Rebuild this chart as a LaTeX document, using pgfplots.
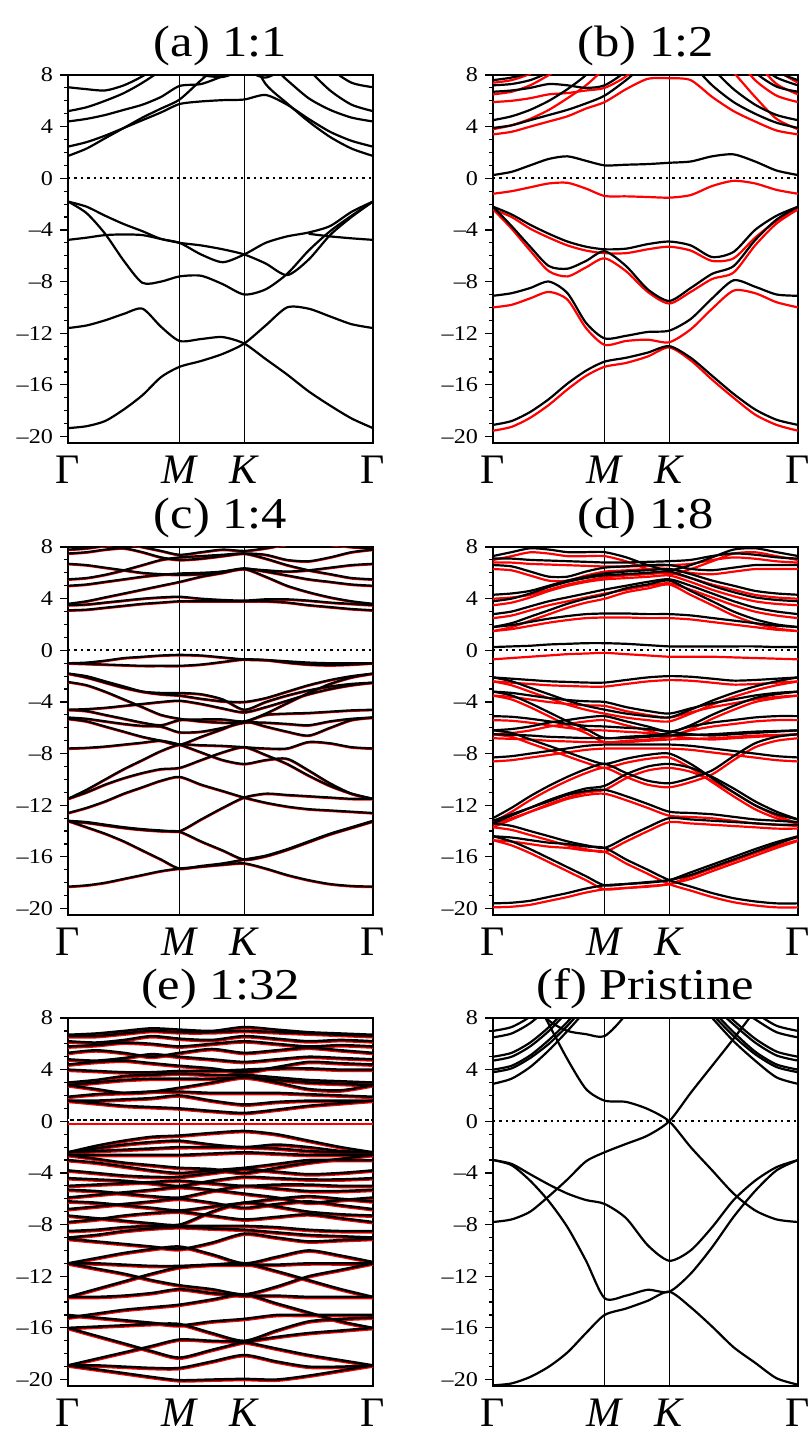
\documentclass[border=0pt]{standalone}
\usepackage{fontspec}
\setmainfont{Liberation Serif}[FakeStretch=1.15]
\newfontfamily\xlab{Liberation Serif}
\usepackage{pgfplots}
\usepackage{pgfplotstable}
\pgfplotsset{compat=1.18}

% k path: Gamma=0, M=0.577, K=0.911, Gamma=1.577
% (a) 1:1
\pgfplotstableread{
k     a1     a2     b1    b2    b3    b4    c1   c2   c3   c4   c5   c6
0     -19.35 -11.6  -1.8  -4.77 -1.8  nan   1.73 2.45 4.4  5.2  7.05 nan
0.096 -19.2  -11.4  -2.2  -4.6  -2.7  nan   2.3  2.8  4.6  5.5  6.9  nan
0.192 -18.8  -11.0  -2.9  -4.4  -4.3  nan   3.1  3.3  4.9  6.0  6.8  nan
0.289 -17.9  -10.5  -3.55 -4.35 -6.4  nan   3.9  3.9  5.3  6.6  7.2  nan
0.385 -16.8  -10.1  -4.1  -4.4  -8.1  nan   4.7  4.5  5.7  7.4  7.9  nan
0.481 -15.4  -11.5  -4.7  -4.7  -8.0  nan   5.4  5.1  6.3  8.4  8.8  9.5
0.577 -14.6  -12.6  -5.0  -5.0  -7.6  nan   6.1  5.75 7.15 10   10   8.5
0.688 -14.15 -12.45 -5.9  -5.2  -7.55 nan   7.6  5.95 7.3  10   10   8.0
0.800 -13.6  -12.3  -6.5  -5.5  -8.2  nan   9.0  6.05 7.9  10   10   7.85
0.911 -12.8  -12.8  -5.9  -5.9  -9.0  nan   10   6.1  8.5  10   10   8.3
1.022 -11.4  -14.0  -5.0  -6.6  -8.6  nan   7.3  6.45 9.0  10   10   7.8
1.133 -10.0  -15.2  -4.5  -7.5  -7.4  nan   5.8  5.7  7.6  10   10   8.6
1.244 -10.1  -16.5  -4.2  -6.3  -5.6  -4.3  4.4  4.6  6.2  8.4  10   nan
1.355 -10.7  -17.6  -3.7  -4.4  -4.1  -4.5  3.2  3.6  5.3  6.8  8.5  nan
1.466 -11.3  -18.6  -2.6  -3.0  -2.9  -4.65 2.3  2.9  4.7  5.7  7.4  nan
1.577 -11.6  -19.35 -1.8  -1.8  -1.8  -4.77 1.73 2.45 4.4  5.2  7.05 nan
}\tabA

% (b) 1:2 -- columns 1-10 black, 11-20 red
\pgfplotstableread{
k     v1     v2    v3    v4    c0   c1   c2   c3   c4   c5   r1     r2    r3   r4   r0    rc1  rc2 rc3 rc4 rc5
0     -19.1  -9.1  -2.2  -2.2  0.25 3.9  4.5  6.7  7.2  7.6  -19.55 -10.0 -2.4 -2.4 -1.2  3.4  3.8 5.9 6.5 7.4
0.096 -18.8  -8.9  -3.7  -2.8  0.5  4.1  4.8  6.8  7.3  7.8  -19.25 -9.8  -3.9 -3.0 -1.0  3.6  4.1 6.0 6.7 7.6
0.192 -18.1  -8.5  -5.3  -3.6  1.0  4.5  5.3  7.0  7.6  8.2  -18.55 -9.3  -5.6 -3.9 -0.7  4.0  4.6 6.2 7.2 8.1
0.289 -17.1  -8.0  -6.8  -4.3  1.5  4.9  6.0  7.3  8.2  9.0  -17.55 -8.8  -7.2 -4.6 -0.4  4.4  5.3 6.5 8.0 9.0
0.385 -15.9  -8.9  -7.0  -4.9  1.7  5.3  6.9  7.2  9.0  10   -16.35 -9.4  -7.6 -5.2 -0.35 4.8  6.2 6.6 9.0 10
0.481 -14.9  -11.2 -6.4  -5.3  1.35 5.8  8.0  7.0  10   10   -15.3  -11.6 -6.9 -5.6 -0.8  5.4  7.2 6.8 10  10
0.577 -14.2  -12.4 -5.65 -5.5  1.0  6.4  9.5  7.2  10   10   -14.6  -12.9 -6.2 -5.8 -1.37 5.9  8.5 7.0 10  10
0.688 -13.9  -12.2 -6.8  -5.45 1.05 7.6  10   8.3  10   10   -14.3  -12.6 -7.2 -5.8 -1.4  6.9  10  7.9 10  10
0.800 -13.5  -11.9 -8.6  -5.1  1.1  9.0  10   10   10   10   -13.8  -12.5 -8.8 -5.5 -1.45 7.7  10  9.5 10  10
0.911 -13.0  -11.8 -9.5  -4.9  1.2  10   10   10   10   10   -13.1  -12.7 -9.7 -5.3 -1.5  7.75 10  10  10  10
1.022 -13.9  -10.9 -8.5  -5.2  1.3  8.9  10   10   10   10   -14.1  -11.7 -8.8 -5.6 -1.3  7.6  10  10  10  10
1.133 -15.3  -9.3  -7.4  -6.1  1.7  7.2  8.5  10   10   10   -15.6  -10.1 -7.8 -6.4 -0.6  6.3  10  10  10  10
1.244 -16.7  -7.9  -6.8  -5.7  1.85 5.9  6.9  10   10   10   -17.0  -8.7  -7.3 -6.2 -0.2  5.2  8.2 9.5 10  10
1.355 -17.9  -8.4  -4.8  -4.0  1.3  5.0  5.7  8.2  9.0  10   -18.3  -8.9  -5.2 -4.6 -0.4  4.4  6.3 7.6 9.0 10
1.466 -18.7  -9.0  -3.2  -2.9  0.6  4.3  4.9  7.1  7.8  8.3  -19.1  -9.6  -3.5 -3.3 -0.9  3.7  4.6 6.4 7.3 8.4
1.577 -19.1  -9.1  -2.2  -2.2  0.25 3.9  4.5  6.7  7.2  7.6  -19.55 -10.0 -2.4 -2.4 -1.2  3.4  3.8 5.9 6.5 7.4
}\tabB

% (c) 1:4
\pgfplotstableread{
k     c1     c2    c3     c4    c5    c6    c7    c8   c9    c10   c11   c12   c13   c14  c15   c16   u1   u2   u3  u4   u5   u6   u7  u8  c17
0     -18.3  -13.2 -13.2  -12.6 -11.5 -11.5 -7.6  -5.3 -5.2  -4.6  -4.6  -2.45 -1.8  -1.8 -1.0  -1.0  3.1  3.5  3.6 5.0  5.5  6.7  7.5 7.8 -13.25
0.096 -18.2  -13.7 -13.3  -12.2 -11.0 -10.8 -7.55 -5.5 -5.3  -4.7  -4.55 -2.7  -2.0  -2.1 -0.95 -1.05 3.15 3.55 3.8 5.1  5.6  6.6  7.6 7.9 -13.35
0.192 -18.0  -14.2 -13.5  -11.7 -10.4 -10.0 -7.45 -5.9 -5.5  -5.0  -4.45 -3.2  -2.4  -2.5 -0.8  -1.1  3.3  3.7  4.1 5.3  5.85 6.4  7.8 8.1 -13.55
0.289 -17.7  -14.8 -13.7  -11.1 -9.9  -9.2  -7.3  -6.3 -5.7  -5.3  -4.3  -3.8  -2.8  -2.9 -0.6  -1.15 3.45 3.85 4.4 5.5  6.2  6.2  7.9 8.3 -13.75
0.385 -17.4  -15.5 -13.85 -10.6 -9.5  -8.5  -7.15 -6.7 -5.85 -5.6  -4.15 -4.4  -3.2  -3.2 -0.5  -1.2  3.6  4.0  4.7 5.7  6.6  6.0  7.6 8.0 -13.9
0.481 -17.1  -16.2 -13.95 -10.1 -9.2  -7.8  -7.0  -7.0 -5.9  -5.8  -4.0  -5.0  -3.4  -3.3 -0.4  -1.2  3.7  4.1  5.0 5.85 7.0  5.9  7.2 7.7 -14.0
0.577 -16.9  -16.9 -14.0  -9.8  -9.1  -7.3  -7.3  -7.3 -6.35 -5.4  -3.9  -5.3  -3.5  -3.3 -0.35 -1.2  3.8  4.15 5.3 5.95 7.2  5.85 7.0 7.4 -14.05
0.688 -16.75 -16.7 -13.1  -10.4 -8.5  -7.35 -7.9  -6.7 -6.3  -5.35 -4.15 -5.5  -3.75 -3.4 -0.4  -1.1  3.8  4.0  5.7 6.0  7.3  5.9  7.1 7.6 -14.8
0.800 -16.6  -16.5 -12.2  -10.9 -7.9  -7.4  -8.5  -6.1 -6.0  -5.35 -4.5  -5.6  -3.95 -3.8 -0.55 -0.9  3.8  3.9  6.0 6.1  7.4  6.1  7.3 7.8 -15.5
0.911 -16.5  -16.2 -11.4  -11.4 -7.5  -7.5  -8.8  -5.5 -5.6  -5.5  -4.8  -5.55 -4.0  -4.6 -0.7  -0.7  3.8  3.85 6.3 6.35 7.5  6.3  7.5 7.7 -16.2
1.022 -16.9  -15.9 -11.1  -11.8 -8.1  -7.6  -8.5  -5.9 -5.6  -5.0  -4.4  -4.9  -3.7  -4.0 -0.75 -0.75 3.8  3.95 5.7 6.1  7.1  6.2  7.4 7.9 -15.95
1.133 -17.4  -15.4 -11.2  -12.1 -8.8  -7.6  -8.4  -6.3 -5.7  -4.9  -3.9  -4.1  -3.2  -3.5 -0.85 -0.95 3.7  3.95 5.0 5.8  6.6  6.1  7.0 8.2 -15.45
1.244 -17.8  -14.8 -11.3  -12.3 -9.7  -7.1  -9.3  -6.6 -5.8  -4.85 -3.4  -3.3  -2.7  -3.1 -0.95 -1.1  3.5  3.85 4.5 5.5  6.2  6.2  6.9 8.3 -14.85
1.355 -18.1  -14.2 -11.4  -12.4 -10.5 -7.2  -10.3 -6.0 -5.5  -4.75 -3.0  -2.6  -2.3  -2.8 -1.0  -1.15 3.35 3.7  4.1 5.3  5.9  6.4  7.2 8.2 -14.25
1.466 -18.25 -13.7 -11.5  -12.5 -11.1 -7.5  -11.1 -5.4 -5.3  -4.65 -2.7  -2.1  -2.0  -2.6 -1.0  -1.1  3.2  3.6  3.8 5.1  5.6  6.6  7.6 8.0 -13.75
1.577 -18.3  -13.2 -11.5  -12.6 -11.5 -7.6  -11.5 -5.2 -5.2  -4.6  -2.5  -1.8  -1.8  -2.5 -1.0  -1.0  3.1  3.5  3.6 5.0  5.5  6.7  7.8 7.9 -13.25
}\tabC

% (d) 1:8 -- columns 1-25 black, 26 red band near the gap
\pgfplotstableread{
k     d1     d2     d3     d4    d5    d6    d7    d8    d9   d10   d11  d12   d13  d14   d15   d16  d17  e1   e2  e3  e4  e5   e6  e7   e8  dz
0     -19.6  -14.4  -14.4  -13.2 -13.4 -13.0 -13.4 -6.2  -8.3 -6.5  -6.2 -5.1  -3.2 -3.2  -2.1  -2.1 0.25 1.8  1.8 2.8 3.8 4.3  6.6 7.1  7.3 -0.7
0.096 -19.55 -14.8  -14.5  -12.7 -12.8 -12.2 -13.6 -6.4  -8.2 -6.55 -6.1 -5.15 -3.5 -3.3  -2.2  -2.4 0.3  1.95 2.1 3.0 4.0 4.4  6.5 7.1  7.6 -0.6
0.192 -19.4  -15.4  -14.7  -12.2 -12.2 -11.3 -14.0 -6.9  -8.0 -6.6  -5.9 -5.3  -4.1 -3.5  -2.3  -2.9 0.35 2.2  2.6 3.4 4.4 4.6  6.1 7.0  7.9 -0.5
0.289 -19.1  -16.1  -14.9  -11.7 -11.6 -10.5 -14.4 -7.4  -7.8 -6.7  -5.6 -5.5  -4.8 -3.7  -2.4  -3.4 0.45 2.45 3.1 3.8 4.9 5.0  5.7 6.95 7.8 -0.4
0.385 -18.8  -16.8  -15.0  -11.2 -11.1 -9.8  -14.8 -7.9  -7.6 -6.75 -5.4 -5.7  -5.5 -3.85 -2.45 -3.9 0.5  2.65 3.6 4.1 5.3 5.4  5.7 6.9  7.6 -0.3
0.481 -18.45 -17.5  -15.2  -10.9 -10.7 -9.2  -15.1 -8.4  -7.4 -6.8  -5.2 -5.85 -6.1 -3.95 -2.5  -4.3 0.55 2.8  4.0 4.4 5.6 5.7  6.1 6.85 7.6 -0.25
0.577 -18.2  -18.2  -15.3  -10.8 -10.5 -8.8  -15.3 -8.8  -7.3 -6.8  -5.1 -5.9  -6.8 -4.0  -2.5  -4.6 0.55 2.85 4.3 4.7 5.8 5.95 6.4 6.8  7.6 -0.2
0.688 -18.1  -18.1  -16.2  -11.3 -9.6  -9.5  -14.5 -8.4  -7.3 -6.8  -5.5 -6.0  -6.7 -4.4  -2.3  -4.9 0.5  2.85 4.8 5.0 5.9 6.1  6.5 6.8  7.2 -0.3
0.800 -18.0  -17.95 -17.0  -11.9 -9.0  -10.1 -13.7 -8.1  -7.3 -6.7  -5.9 -6.1  -6.6 -4.7  -2.1  -5.1 0.4  2.8  5.1 5.3 6.0 6.2  6.6 6.85 6.6 -0.4
0.911 -17.8  -17.8  -17.8  -12.5 -8.8  -10.3 -13.0 -8.0  -7.3 -6.6  -6.3 -6.3  -6.4 -4.9  -2.0  -5.2 0.3  2.8  5.4 5.5 6.1 6.3  6.6 6.9  6.2 -0.5
1.022 -17.2  -17.4  -18.3  -12.6 -9.1  -9.9  -13.1 -8.8  -7.4 -6.55 -5.9 -6.5  -5.8 -4.5  -2.05 -4.6 0.3  2.7  4.6 5.0 5.6 5.9  6.3 7.0  6.6 -0.5
1.133 -16.6  -16.8  -18.8  -12.7 -9.8  -9.3  -13.2 -9.9  -7.6 -6.5  -5.6 -6.6  -5.0 -4.1  -2.2  -3.9 0.3  2.5  3.8 4.4 5.0 5.4  6.2 7.3  7.2 -0.5
1.244 -16.0  -16.2  -19.2  -12.9 -10.7 -8.2  -13.3 -11.0 -7.8 -6.4  -5.4 -6.5  -4.3 -3.8  -2.35 -3.3 0.3  2.3  3.0 3.8 4.5 5.0  6.4 7.5  7.8 -0.55
1.355 -15.4  -15.6  -19.45 -13.1 -11.7 -7.2  -13.4 -12.0 -8.0 -6.3  -5.2 -6.4  -3.7 -3.5  -2.3  -2.8 0.3  2.1  2.4 3.3 4.1 4.6  6.6 7.4  7.9 -0.6
1.466 -14.85 -15.0  -19.6  -13.2 -12.5 -6.7  -13.5 -12.7 -8.2 -6.25 -5.1 -6.3  -3.4 -3.3  -2.2  -2.4 0.25 1.9  2.0 3.0 3.9 4.4  6.6 7.2  7.6 -0.65
1.577 -14.4  -14.45 -19.6  -13.3 -13.1 -6.5  -13.5 -13.1 -8.3 -6.2  -5.1 -6.2  -3.2 -3.2  -2.1  -2.1 0.25 1.8  1.8 2.8 3.8 4.3  6.6 7.1  7.3 -0.7
}\tabD

% (e) 1:32 -- columns 1-45 black, 46 red band near the gap
\pgfplotstableread{
k     b1     b2    b3    b4    b5    b6    b7    b8    b9    b10   b11   b12   b13  b14  b15  b16  b17  b18  b19  b20  b21  b22  b23  b24  b25  b26  b27  b28  b29  b30   b31 b32  b33 b34 b35 b36 b37 b38 b39 b40 b41 b42 b43 b44 b45 bz
0     -18.9  -18.9 -18.9 -16.0 -16.0 -15.2 -15.0 -13.6 -13.6 -11.0 -11.0 -11.0 -9.1 -9.0 -8.5 -7.8 -7.3 -6.8 -6.2 -5.9 -5.3 -5.0 -4.4 -3.8 -3.0 -2.6 -2.6 -2.4 -2.4 -2.4  0.1 1.6  1.6 1.9 2.8 2.8 3.0 4.0 4.4 4.8 5.3 5.8 6.2 6.6 6.7 -0.2
0.144 -19.2  -18.9 -18.4 -16.6 -15.9 -14.9 -15.2 -13.6 -13.0 -11.4 -11.0 -10.6 -9.3 -8.8 -8.4 -7.6 -7.5 -6.6 -6.3 -5.7 -5.4 -4.9 -4.5 -4.0 -3.2 -2.9 -2.6 -2.3 -2.1 -1.9  0.1 1.4  1.6 2.1 2.5 3.0 3.2 3.9 4.6 4.7 5.5 5.9 6.1 6.6 6.8 -0.2
0.289 -19.5  -19.0 -17.9 -17.2 -15.8 -14.6 -15.4 -13.5 -12.4 -11.8 -11.1 -10.2 -9.5 -8.5 -8.2 -7.3 -7.7 -6.4 -6.5 -5.5 -5.6 -4.8 -4.6 -4.2 -3.5 -3.2 -2.6 -2.2 -1.8 -1.5  0.1 1.2  1.7 2.2 2.2 3.2 3.5 3.8 4.7 4.9 5.3 6.1 6.3 6.8 7.0 -0.2
0.433 -19.8  -19.1 -17.4 -17.8 -15.7 -14.4 -15.6 -13.3 -11.8 -12.3 -11.2 -9.9  -9.7 -8.3 -8.1 -7.1 -7.9 -6.2 -6.7 -5.3 -5.8 -4.7 -4.8 -4.3 -3.8 -3.4 -2.6 -2.1 -1.6 -1.2  0.1 1.1  1.8 2.3 2.3 3.3 3.6 3.8 4.5 5.2 5.0 6.0 6.6 7.0 7.2 -0.2
0.577 -20.05 -19.1 -16.9 -18.3 -15.7 -14.2 -15.8 -13.0 -11.3 -12.7 -11.2 -9.7  -9.9 -8.2 -8.1 -7.0 -8.0 -6.0 -6.9 -5.1 -5.9 -4.6 -5.0 -4.3 -4.0 -3.6 -2.6 -2.0 -1.5 -1.1  0.1 1.0  2.0 2.3 2.6 3.3 3.7 3.9 4.3 5.0 5.3 5.8 6.4 6.9 7.1 -0.2
0.744 -20.0  -18.6 -17.0 -17.7 -16.4 -13.8 -15.5 -13.3 -11.1 -13.0 -11.1 -10.3 -9.4 -8.3 -8.1 -7.3 -7.0 -6.3 -6.6 -5.3 -5.4 -4.8 -4.6 -4.0 -3.8 -3.7 -2.5 -2.0 -1.8 -0.9  0.1 0.8  1.6 2.2 3.0 3.3 3.6 3.9 4.1 4.8 5.6 6.0 6.3 6.9 7.0 -0.2
0.911 -19.95 -18.1 -17.1 -17.1 -17.0 -13.4 -15.3 -13.5 -11.0 -13.4 -11.1 -11.0 -8.7 -8.4 -8.1 -7.6 -6.3 -6.7 -6.3 -5.6 -5.0 -5.0 -4.3 -3.7 -3.6 -4.0 -2.4 -2.0 -2.0 -0.75 0.1 0.65 1.3 2.2 3.4 3.4 3.6 4.0 3.8 4.6 5.3 6.2 6.6 7.0 7.3 -0.2
1.078 -20.0  -18.6 -17.6 -16.7 -16.2 -14.1 -15.0 -13.5 -11.6 -12.8 -11.1 -10.5 -9.0 -8.6 -8.2 -7.4 -6.6 -6.4 -6.0 -5.9 -5.2 -4.9 -4.4 -3.9 -3.3 -3.6 -2.5 -2.1 -1.8 -1.0  0.1 0.9  1.5 2.2 3.0 3.2 3.4 4.1 4.2 4.8 5.5 6.0 6.4 6.9 7.1 -0.2
1.244 -19.7  -19.0 -18.1 -16.4 -15.5 -14.8 -15.0 -13.6 -12.3 -12.0 -11.0 -10.0 -9.3 -8.8 -8.4 -7.2 -7.0 -6.2 -5.8 -6.3 -5.4 -4.9 -4.5 -4.1 -3.0 -3.2 -2.6 -2.3 -2.0 -1.5  0.1 1.2  1.6 2.1 2.5 3.0 3.2 4.1 4.6 5.0 5.7 5.8 6.2 6.8 6.9 -0.2
1.411 -19.3  -19.0 -18.5 -16.2 -15.3 -15.5 -15.0 -13.6 -13.0 -11.5 -11.0 -10.4 -9.2 -8.9 -8.5 -7.5 -7.2 -6.5 -6.0 -6.1 -5.4 -5.0 -4.5 -4.0 -3.0 -2.9 -2.6 -2.4 -2.3 -2.0  0.1 1.4  1.6 2.0 2.4 2.9 3.1 4.0 4.5 4.9 5.5 5.9 6.3 6.7 6.8 -0.2
1.577 -18.9  -18.9 -18.9 -16.0 -15.2 -16.0 -15.0 -13.6 -13.6 -11.0 -11.0 -10.9 -9.1 -9.0 -8.5 -7.8 -7.3 -6.8 -6.2 -5.9 -5.3 -5.0 -4.4 -3.8 -3.0 -2.6 -2.6 -2.4 -2.4 -2.4  0.1 1.6  1.6 1.9 2.8 2.8 3.0 4.0 4.4 4.8 5.3 5.8 6.2 6.6 6.7 -0.2
}\tabE

% (f) pristine
\pgfplotstableread{
k     f1     f2     f3     f4    f5   f6   g1  g2  g3  g4  g5  g6  g7
0     -20.45 -3.0   -3.0   -7.8  16   nan  2.9 3.8 4.0 4.7 5.0 6.5 7.0
0.096 -20.3  -3.4   -3.3   -7.6  13   nan  3.3 4.1 4.3 5.0 5.3 6.8 7.3
0.192 -19.8  -4.6   -4.1   -7.0  10.3 9.5  4.2 4.9 5.1 5.8 6.1 7.6 8.1
0.289 -19.0  -6.2   -4.9   -5.8  7.5  7.8  5.5 6.0 6.3 7.0 7.3 8.8 9.3
0.385 -17.9  -8.2   -5.6   -4.5  4.8  7.0  7.0 7.4 7.7 8.5 8.8 nan nan
0.481 -16.4  -10.8  -6.1   -3.1  2.5  6.75 8.6 9.0 9.3 nan nan nan nan
0.577 -15.0  -13.7  -6.4   -2.4  1.6  6.6  nan nan nan nan nan nan nan
0.688 -14.5  -13.5  -7.5   -1.75 1.5  8.3  nan nan nan nan nan nan nan
0.800 -13.9  -13.05 -9.6   -1.1  0.95 11   nan nan nan nan nan nan nan
0.911 -13.2  -13.2  -10.8  0.0   0.0  nan  nan nan nan nan nan nan nan
1.022 -14.4  -11.8  -10.0  2.2   -2.0 nan  9.8 nan nan nan nan nan nan
1.133 -15.9  -9.75  -8.2   4.3   -3.8 nan  8.0 8.3 8.6 9.0 9.3 nan nan
1.244 -17.5  -7.4   -6.1   6.4   -5.6 nan  6.2 6.6 6.9 7.5 7.8 9.0 9.5
1.355 -18.7  -5.4   -4.6   8.6   -6.9 nan  4.7 5.2 5.4 6.1 6.4 7.9 8.4
1.466 -19.9  -3.8   -3.55  11    -7.6 nan  3.4 4.2 4.4 5.1 5.4 6.9 7.4
1.577 -20.4  -3.0   -3.0   13    -7.8 nan  2.9 3.8 4.0 4.7 5.0 6.5 7.0
}\tabF

\pgfplotsset{
  bandax/.style={
    scale only axis, width=152.5pt, height=184pt, anchor=south west,
    xmin=0, xmax=1.577, ymin=-20.5, ymax=8,
    axis line style={line width=0.8pt},
    xtick={0,0.577,0.911,1.577},
    xticklabels={Γ,\textit{M},\textit{K},Γ},
    xtick pos=bottom, ytick pos=left,
    xtick style={draw=none},
    xmajorgrids, major grid style={black, line width=0.6pt},
    ytick={-20,-16,-12,-8,-4,0,4,8},
    yticklabels={–20,–16,–12,–8,–4,0,4,8},
    minor y tick num=3,
    tick align=outside,
    major tick length=4pt, minor tick length=2pt,
    ytick style={black, line width=0.6pt},
    x tick label style={font=\xlab\fontsize{21}{21}\selectfont, inner sep=2.5pt},
    y tick label style={font=\fontsize{10.5}{11}\selectfont},
    every axis title/.style={at={(0.5,1)}, anchor=south, inner sep=0pt,
      yshift=4.5pt, font=\fontsize{22}{24}\selectfont},
    unbounded coords=jump,
  },
  band/.style={black, line width=1.1pt, smooth, tension=0.45},
  bandr/.style={red, line width=1.1pt, smooth, tension=0.45},
  zeroline/.style={black, line width=0.8pt, dash pattern=on 1.2pt off 2pt},
}

\begin{document}
\begin{tikzpicture}
\useasboundingbox (0,0) rectangle (404.5pt,716.5pt);

\begin{axis}[bandax, at={(34pt,495pt)}, title={(a) 1:1}]
  \addplot[zeroline] coordinates {(0,0) (1.577,0)};
  \pgfplotsinvokeforeach{1,...,12}{\addplot[band] table[x index=0, y index=#1] {\tabA};}
\end{axis}

\begin{axis}[bandax, at={(246.5pt,495pt)}, title={(b) 1:2}]
  \addplot[zeroline] coordinates {(0,0) (1.577,0)};
  \pgfplotsinvokeforeach{11,...,20}{\addplot[bandr] table[x index=0, y index=#1] {\tabB};}
  \pgfplotsinvokeforeach{1,...,10}{\addplot[band] table[x index=0, y index=#1] {\tabB};}
\end{axis}

\begin{axis}[bandax, at={(34pt,259pt)}, title={(c) 1:4}]
  \addplot[zeroline] coordinates {(0,0) (1.577,0)};
  \pgfplotsinvokeforeach{1,...,25}{\addplot[bandr, yshift=-0.3pt] table[x index=0, y index=#1] {\tabC};}
  \pgfplotsinvokeforeach{1,...,25}{\addplot[band] table[x index=0, y index=#1] {\tabC};}
\end{axis}

\begin{axis}[bandax, at={(246.5pt,259pt)}, title={(d) 1:8}]
  \addplot[zeroline] coordinates {(0,0) (1.577,0)};
  \pgfplotsinvokeforeach{1,...,16,18,19,...,25}{\addplot[bandr, yshift=-2pt] table[x index=0, y index=#1] {\tabD};}
  \addplot[bandr] table[x index=0, y index=26] {\tabD};
  \pgfplotsinvokeforeach{1,...,25}{\addplot[band] table[x index=0, y index=#1] {\tabD};}
\end{axis}

\begin{axis}[bandax, at={(34pt,23.5pt)}, title={(e) 1:32}]
  \pgfplotsinvokeforeach{1,...,30,32,33,...,45}{\addplot[bandr, line width=1.25pt, yshift=-0.6pt] table[x index=0, y index=#1] {\tabE};}
  \addplot[bandr, line width=1.25pt] table[x index=0, y index=46] {\tabE};
  \pgfplotsinvokeforeach{1,...,45}{\addplot[band, line width=1.25pt] table[x index=0, y index=#1] {\tabE};}
  \addplot[white, line width=0.6pt, dash pattern=on 1.2pt off 2pt] coordinates {(0,0.1) (1.577,0.1)};
\end{axis}

\begin{axis}[bandax, at={(246.5pt,23.5pt)}, title={(f) Pristine}]
  \addplot[zeroline] coordinates {(0,0) (1.577,0)};
  \pgfplotsinvokeforeach{1,...,13}{\addplot[band] table[x index=0, y index=#1] {\tabF};}
\end{axis}
\end{tikzpicture}
\end{document}
